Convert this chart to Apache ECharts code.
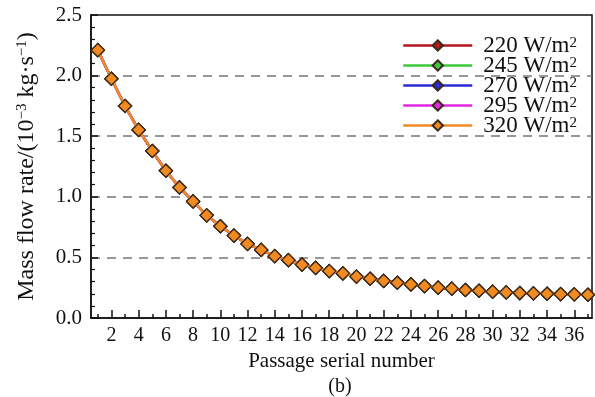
<!DOCTYPE html>
<html>
<head>
<meta charset="utf-8">
<script src="https://cdn.jsdelivr.net/npm/echarts@6/dist/echarts.min.js"></script>
<style>html,body{margin:0;padding:0;background:#fff;}#c{width:595px;height:397px;}</style>
</head>
<body>
<div id="c"></div>
<script>
const passages = [1,2,3,4,5,6,7,8,9,10,11,12,13,14,15,16,17,18,19,20,21,22,23,24,25,26,27,28,29,30,31,32,33,34,35,36,37];
const flow220 = [2.21,1.974,1.749,1.552,1.378,1.215,1.077,0.962,0.847,0.757,0.68,0.612,0.562,0.51,0.477,0.441,0.414,0.387,0.368,0.342,0.324,0.306,0.291,0.277,0.263,0.25,0.242,0.231,0.225,0.217,0.211,0.206,0.203,0.2,0.197,0.195,0.192];
const flow245 = [2.21,1.974,1.749,1.552,1.378,1.215,1.077,0.962,0.847,0.757,0.68,0.612,0.562,0.51,0.477,0.441,0.414,0.387,0.368,0.342,0.324,0.306,0.291,0.277,0.263,0.25,0.242,0.231,0.225,0.217,0.211,0.206,0.203,0.2,0.197,0.195,0.192];
const flow270 = [2.21,1.974,1.749,1.552,1.378,1.215,1.077,0.962,0.847,0.757,0.68,0.612,0.562,0.51,0.477,0.441,0.414,0.387,0.368,0.342,0.324,0.306,0.291,0.277,0.263,0.25,0.242,0.231,0.225,0.217,0.211,0.206,0.203,0.2,0.197,0.195,0.192];
const flow295 = [2.21,1.974,1.749,1.552,1.378,1.215,1.077,0.962,0.847,0.757,0.68,0.612,0.562,0.51,0.477,0.441,0.414,0.387,0.368,0.342,0.324,0.306,0.291,0.277,0.263,0.25,0.242,0.231,0.225,0.217,0.211,0.206,0.203,0.2,0.197,0.195,0.192];
const flow320 = [2.21,1.974,1.749,1.552,1.378,1.215,1.077,0.962,0.847,0.757,0.68,0.612,0.562,0.51,0.477,0.441,0.414,0.387,0.368,0.342,0.324,0.306,0.291,0.277,0.263,0.25,0.242,0.231,0.225,0.217,0.211,0.206,0.203,0.2,0.197,0.195,0.192];
const seriesNames = ['220 W/m2','245 W/m2','270 W/m2','295 W/m2','320 W/m2'];
const seriesData = [flow220, flow245, flow270, flow295, flow320];
const lineColors = ['#b3161c','#3dc83d','#2a2ad6','#e028e0','#f28a22'];
const xMajorTicks = [2,4,6,8,10,12,14,16,18,20,22,24,26,28,30,32,34,36];
const xMinorTicks = [1,3,5,7,9,11,13,15,17,19,21,23,25,27,29,31,33,35,37];

const FONT = 'Liberation Serif';
const chart = echarts.init(document.getElementById('c'), null, {renderer:'canvas'});

const series = seriesNames.map((n, i) => ({
  name: n,
  type: 'line',
  xAxisIndex: 0,
  data: passages.map((p, j) => [p, seriesData[i][j]]),
  symbol: 'diamond',
  symbolSize: 13,
  lineStyle: {color: lineColors[i], width: 2.5},
  itemStyle: {color: lineColors[i], borderColor: '#3a2a1a', borderWidth: 1.2},
  z: 2 + i
}));

chart.setOption({
  animation: false,
  backgroundColor: '#fff',
  grid: {left: 91, right: 3, top: 15, bottom: 79, show: true, borderColor: '#111', borderWidth: 1.5, backgroundColor: 'transparent'},
  legend: {
    orient: 'vertical', right: 13, top: 29, itemGap: -3, itemWidth: 69, itemHeight: 13,
    data: seriesNames,
    lineStyle: {width: 2.5},
    formatter: function (n) { return n.replace('m2', 'm{sup|2}'); },
    textStyle: {fontFamily: FONT, fontSize: 23, color: '#111', lineHeight: 20, padding: [0,0,0,6],
      rich: {sup: {fontFamily: FONT, fontSize: 15, verticalAlign: 'top', lineHeight: 12}}}
  },
  xAxis: [{
    type: 'value', min: 0.5, max: 37.3, position: 'bottom',
    name: 'Passage serial number', nameLocation: 'middle', nameGap: 28,
    nameTextStyle: {fontFamily: FONT, fontSize: 21, color: '#111'},
    axisLine: {show: true, lineStyle: {color: '#111', width: 1.5}},
    axisTick: {show: true, inside: true, length: 8, customValues: xMajorTicks, lineStyle: {color: '#111', width: 1.5}},
    axisLabel: {customValues: xMajorTicks, fontFamily: FONT, fontSize: 20, color: '#111', margin: 8},
    splitLine: {show: false}
  },{
    type: 'value', min: 0.5, max: 37.3, position: 'bottom',
    axisLine: {show: false},
    axisTick: {show: true, inside: true, length: 4, customValues: xMinorTicks, lineStyle: {color: '#111', width: 1.5}},
    axisLabel: {show: false},
    splitLine: {show: false}
  }],
  yAxis: {
    type: 'value', min: 0, max: 2.5, interval: 0.5,
    name: 'Mass flow rate/(10{sup|\u22123} kg\u00b7s{sup|\u22121})', nameLocation: 'middle', nameGap: 52,
    nameTextStyle: {fontFamily: FONT, fontSize: 24, color: '#111',
      rich: {sup: {fontFamily: FONT, fontSize: 15, verticalAlign: 'top', padding: [0,0,9,0]}}},
    axisLine: {show: true, lineStyle: {color: '#111', width: 1.5}},
    axisTick: {show: true, inside: true, length: 7, lineStyle: {color: '#111', width: 1.5}},
    minorTick: {show: true, splitNumber: 5, length: 4, lineStyle: {color: '#111', width: 1.2}},
    axisLabel: {fontFamily: FONT, fontSize: 21, color: '#111', margin: 9, formatter: v => v.toFixed(1)},
    splitLine: {show: true, showMinLine: false, showMaxLine: false, lineStyle: {color: '#777', width: 1.5, type: [9, 7]}}
  },
  graphic: [{type: 'text', style: {x: 340, y: 387, text: '(b)', textAlign: 'center', textVerticalAlign: 'middle', fontFamily: FONT, fontSize: 20, fill: '#111'}}],
  series: series
});
</script>
</body>
</html>
